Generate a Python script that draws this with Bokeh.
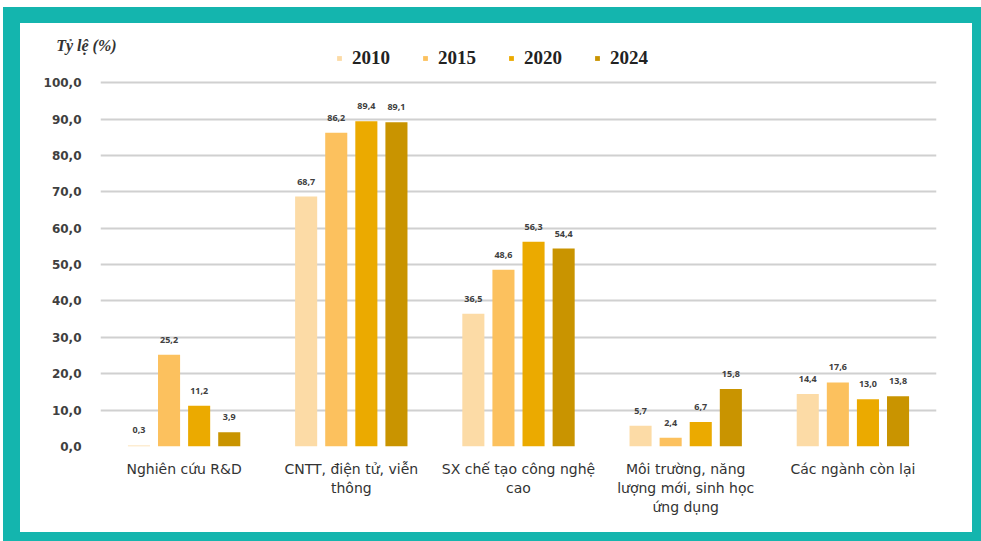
from bokeh.plotting import figure
from bokeh.models import (FixedTicker, CustomJSTickFormatter, Legend, LegendItem,
                          ColumnDataSource, FactorRange)
from bokeh.transform import dodge
from bokeh.core.properties import value
from bokeh.embed import file_html
from bokeh.resources import INLINE

categories = ["Nghiên cứu R&D", "CNTT, điện tử, viễn\nthông", "SX chế tạo công nghệ\ncao",
              "Môi trường, năng\nlượng mới, sinh học\nứng dụng", "Các ngành còn lại"]
years = ["2010", "2015", "2020", "2024"]
v2010 = [0.3, 68.7, 36.5, 5.7, 14.4]
v2015 = [25.2, 86.2, 48.6, 2.4, 17.6]
v2020 = [11.2, 89.4, 56.3, 6.7, 13.0]
v2024 = [3.9, 89.1, 54.4, 15.8, 13.8]
y_ticks = [0, 10, 20, 30, 40, 50, 60, 70, 80, 90, 100]
y_title = "Tỷ lệ (%)"

series = [v2010, v2015, v2020, v2024]
colors = ["#fcdba6", "#fcc15e", "#ebaa00", "#c99400"]
offsets = [-0.27, -0.09, 0.09, 0.27]

p = figure(width=978, height=534, x_range=FactorRange(*categories), y_range=(0, 110.2),
           output_backend="svg", toolbar_location=None,
           min_border_left=80, min_border_right=62, min_border_top=22, min_border_bottom=111)
p.styles = {"margin": "7px 0 0 3px", "border-style": "solid", "border-color": "#14b5ae",
            "border-width": "16px 9px 9px 17px"}
p.outline_line_color = None
p.background_fill_color = "white"
p.border_fill_color = "white"

items = []
for yr, vals, col, off in zip(years, series, colors, offsets):
    src = ColumnDataSource(dict(cat=categories, y=vals,
                                lab=[f"{v:.1f}".replace(".", ",") for v in vals]))
    r = p.vbar(x=dodge("cat", off, range=p.x_range), top="y", width=0.132, bottom=0,
               source=src, fill_color=col, line_color=None)
    p.text(x=dodge("cat", off, range=p.x_range), y="y", text="lab", source=src,
           text_font=value("Open Sans"), text_font_size="9px", text_font_style="bold",
           text_color="#404040", text_align="center", text_baseline="bottom", y_offset=-12)
    items.append(LegendItem(label=yr, renderers=[r]))

p.ygrid.ticker = FixedTicker(ticks=y_ticks)
p.ygrid.grid_line_color = "#d0d0d0"
p.ygrid.grid_line_width = 2
p.xgrid.grid_line_color = None

p.yaxis.ticker = FixedTicker(ticks=y_ticks)
p.yaxis.bounds = (0, 108)
p.yaxis.formatter = CustomJSTickFormatter(code="return tick.toFixed(1).replace('.', ',');")
p.yaxis.axis_line_color = None
p.yaxis.major_tick_line_color = None
p.yaxis.minor_tick_line_color = None
p.yaxis.major_label_text_font = "DejaVu Sans"
p.yaxis.major_label_text_font_size = "12px"
p.yaxis.major_label_text_font_style = "bold"
p.yaxis.major_label_text_color = "#404040"
p.yaxis.major_label_standoff = 13
p.yaxis.axis_label = y_title
p.yaxis.axis_label_orientation = "horizontal"
p.yaxis.axis_label_align = "end"
p.yaxis.axis_label_standoff = -76
p.yaxis.axis_label_text_font = "Liberation Serif"
p.yaxis.axis_label_text_font_size = "16px"
p.yaxis.axis_label_text_font_style = "bold italic"
p.yaxis.axis_label_text_color = "#333333"

p.xaxis.axis_line_color = None
p.xaxis.major_tick_line_color = None
p.xaxis.major_label_text_font = "DejaVu Sans"
p.xaxis.major_label_text_font_size = "14px"
p.xaxis.major_label_text_color = "#333333"
p.xaxis.major_label_standoff = 8

legend = Legend(items=items, orientation="horizontal", location=(236, 377),
                glyph_width=6, glyph_height=6, label_standoff=10, spacing=32,
                padding=0, margin=0, border_line_color=None, background_fill_alpha=0,
                label_text_font="Liberation Serif", label_text_font_size="19px",
                label_text_font_style="bold", label_text_color="#222222")
p.add_layout(legend)

open("out.html", "w").write(file_html(p, INLINE))
